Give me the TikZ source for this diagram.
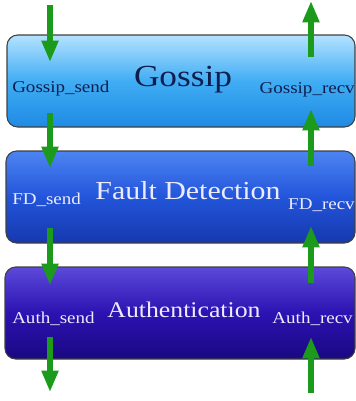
\documentclass[tikz,border=0pt]{standalone}
\usepackage{fontspec}
\setmainfont[FakeStretch=1.15]{Liberation Serif}
\usetikzlibrary{arrows.meta}

\definecolor{gosTop}{HTML}{B4E2FF}
\definecolor{gosMid}{HTML}{40ADF4}
\definecolor{gosBot}{HTML}{1F8AE4}
\definecolor{fdTop}{HTML}{4D84F2}
\definecolor{fdMid}{HTML}{2255DA}
\definecolor{fdBot}{HTML}{1638AE}
\definecolor{auTop}{HTML}{5C4ADA}
\definecolor{auMid}{HTML}{2C12B2}
\definecolor{auBot}{HTML}{1A0882}
\definecolor{gosText}{HTML}{0E1E4E}
\definecolor{lightText}{HTML}{ECECFF}
\definecolor{arrGreen}{HTML}{1C9A1C}

\begin{document}
\begin{tikzpicture}[x=0.75pt,y=-0.75pt]
                \tikzstyle{every node}+=[inner sep=0pt]
                \tikzstyle{layer}=[draw=black!75, line width=0.8pt, rounded corners=8pt]
                \tikzstyle{port}=[font=\fontsize{12.4}{14}\selectfont]
                \tikzstyle{flow}=[draw=arrGreen, line width=3.8pt, -{Triangle[width=12pt,length=16pt]}]
                \useasboundingbox (0,0) rectangle (356,401);
                % the three layers
                \draw [layer, top color=gosTop, bottom color=gosBot, middle color=gosMid] (7,35) rectangle (355,127);
                \draw [layer, top color=fdTop, bottom color=fdBot, middle color=fdMid] (6,151) rectangle (355,243);
                \draw [layer, top color=auTop, bottom color=auBot, middle color=auMid] (5,267) rectangle (355,359);
                % labels
                \node [port, text=gosText, anchor=base west] (gsend) at (12,92) {Gossip\_send};
                \node [text=gosText, font=\fontsize{23}{26}\selectfont, anchor=base] (gossip) at (183,86) {Gossip};
                \node [port, text=gosText, anchor=base east] (grecv) at (355,93) {Gossip\_recv};
                \node [port, text=lightText, anchor=base west] (fdsend) at (12,204) {FD\_send};
                \node [text=lightText, font=\fontsize{19.5}{22}\selectfont, anchor=base] (fd) at (188,199) {Fault Detection};
                \node [port, text=lightText, anchor=base east] (fdrecv) at (355,209) {FD\_recv};
                \node [port, text=lightText, anchor=base west] (asend) at (12,323) {Auth\_send};
                \node [text=lightText, font=\fontsize{16.8}{20}\selectfont, anchor=base] (auth) at (184,317) {Authentication};
                \node [port, text=lightText, anchor=base east] (arecv) at (353,323) {Auth\_recv};
                % send side, going down
                \coordinate (s0) at (50,5);
                \coordinate (s1) at (50,62);
                \coordinate (s2) at (50,113);
                \coordinate (s3) at (50,168);
                \coordinate (s4) at (50,228);
                \coordinate (s5) at (50,285);
                \coordinate (s6) at (50,337);
                \coordinate (s7) at (50,392);
                \draw [flow] (s0) -- (s1);
                \draw [flow] (s2) -- (s3);
                \draw [flow] (s4) -- (s5);
                \draw [flow] (s6) -- (s7);
                % recv side, going up
                \coordinate (r0) at (311,393);
                \coordinate (r1) at (311,337);
                \coordinate (r2) at (311,283);
                \coordinate (r3) at (311,226);
                \coordinate (r4) at (311,166);
                \coordinate (r5) at (311,109);
                \coordinate (r6) at (311,57);
                \coordinate (r7) at (311,1);
                \draw [flow] (r0) -- (r1);
                \draw [flow] (r2) -- (r3);
                \draw [flow] (r4) -- (r5);
                \draw [flow] (r6) -- (r7);
              \end{tikzpicture}
\end{document}
